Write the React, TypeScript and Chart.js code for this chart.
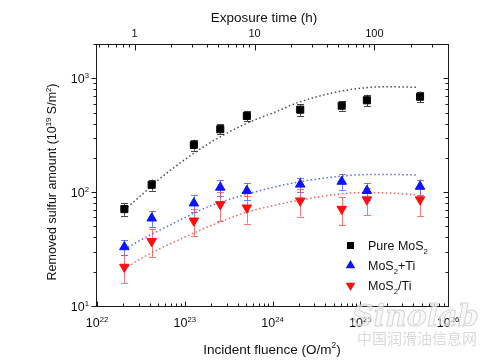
import React, { useEffect, useRef } from 'react';
import { Chart, registerables } from 'chart.js';
Chart.register(...registerables);

const FONT = '"Liberation Sans", Arial, Helvetica, sans-serif';

// Measured data (incident fluence O/m^2)
const fluence = [2.05e22, 4.2e22, 1.27e23, 2.54e23, 5.1e23, 2.07e24, 6.15e24, 1.19e25, 4.8e25];
const pureMoS2 = [71, 116, 260, 357, 467, 530, 574, 641, 689];
const pureMoS2Err = [9, 13, 29, 36, 45, 62, 55, 75, 76];
const mos2PlusTi = [33, 59, 80, 110, 103, 117, 124, 103, 112];
const mos2PlusTiErr = [5, 9.5, 13.5, 18, 17, 17, 19, 17, 17];
const mos2SlashTi = [22, 37, 56, 78, 73, 84, 71, 86, 86];
const mos2SlashTiErr = [6, 10, 15, 22, 20, 23, 20, 23, 24];

// Fitted (dotted) curves
const fitFluence = [2.05e22, 3e22, 5e22, 1e23, 2e23, 5e23, 1e24, 2e24, 5e24, 1e25, 2e25, 4.5e25];
const pureFit = [70, 90, 128, 193, 275, 400, 494, 616, 748, 817, 842, 833];
const plusTiFit = [31.5, 37.2, 45.7, 59.7, 76.4, 95.5, 110, 123, 136, 142, 143, 141.6];
const slashTiFit = [21.2, 25.4, 31.4, 40.2, 50.9, 66.4, 76, 85, 94.8, 99, 98.4, 94.4];

// Axis tick labels
const bottomMajor = [1e22, 1e23, 1e24, 1e25, 1e26];
const bottomExp = ['22', '23', '24', '25', '26'];
const leftMajor = [10, 100, 1000];
const leftExp = ['1', '2', '3'];
const topMajor = [1, 10, 100];
const topLabels = ['1', '10', '100'];

const legendLabels = [
  [{ t: 'Pure MoS' }, { t: '2', sub: true }],
  [{ t: 'MoS' }, { t: '2', sub: true }, { t: '+Ti' }],
  [{ t: 'MoS' }, { t: '2', sub: true }, { t: '/Ti' }],
];

const BLACK = '#000000';
const BLUE = '#0a14ff';
const RED = '#ff0d0d';

type Seg = { t: string; sup?: boolean; sub?: boolean };

function minorsBetween(min: number, max: number): number[] {
  const out: number[] = [];
  for (let e = Math.floor(Math.log10(min)); e <= Math.ceil(Math.log10(max)); e++) {
    for (let m = 2; m <= 9; m++) {
      const v = m * Math.pow(10, e);
      if (v >= min * 0.999 && v <= max * 1.001) out.push(v);
    }
  }
  return out;
}

function richWidth(ctx: CanvasRenderingContext2D, segs: Seg[], size: number) {
  let w = 0;
  for (const s of segs) {
    const fs = s.sup || s.sub ? size * 0.62 : size;
    ctx.font = `${fs}px ${FONT}`;
    w += ctx.measureText(s.t).width;
  }
  return w;
}

function drawRich(ctx: CanvasRenderingContext2D, segs: Seg[], x: number, y: number, size: number, align: string) {
  const total = richWidth(ctx, segs, size);
  let cx = align === 'center' ? x - total / 2 : align === 'right' ? x - total : x;
  ctx.textAlign = 'left';
  ctx.textBaseline = 'alphabetic';
  for (const s of segs) {
    const fs = s.sup || s.sub ? size * 0.62 : size;
    ctx.font = `${fs}px ${FONT}`;
    const dy = s.sup ? -size * 0.42 : s.sub ? size * 0.28 : 0;
    ctx.fillText(s.t, cx, y + dy);
    cx += ctx.measureText(s.t).width;
  }
}

function drawMarker(ctx: CanvasRenderingContext2D, kind: string, x: number, y: number, color: string) {
  ctx.fillStyle = color;
  ctx.beginPath();
  if (kind === 'rect') {
    ctx.rect(x - 3.5, y - 3.5, 7, 7);
  } else if (kind === 'up') {
    ctx.moveTo(x, y - 5.5);
    ctx.lineTo(x + 4.8, y + 2.8);
    ctx.lineTo(x - 4.8, y + 2.8);
    ctx.closePath();
  } else {
    ctx.moveTo(x, y + 5.5);
    ctx.lineTo(x + 4.8, y - 2.8);
    ctx.lineTo(x - 4.8, y - 2.8);
    ctx.closePath();
  }
  ctx.fill();
}

const errorBars = [
  { data: pureMoS2, err: pureMoS2Err, color: 'rgba(40,40,40,0.85)' },
  { data: mos2PlusTi, err: mos2PlusTiErr, color: 'rgba(60,80,255,0.75)' },
  { data: mos2SlashTi, err: mos2SlashTiErr, color: 'rgba(255,70,70,0.75)' },
];

const legendMarkers = [
  { kind: 'rect', color: BLACK },
  { kind: 'up', color: BLUE },
  { kind: 'down', color: RED },
];

const framePlugin = {
  id: 'framePlugin',
  beforeDraw(chart: any) {
    const ctx = chart.ctx;
    ctx.save();
    ctx.fillStyle = '#ffffff';
    ctx.fillRect(0, 0, chart.width, chart.height);
    ctx.restore();
  },
  beforeDatasetsDraw(chart: any) {
    const ctx = chart.ctx;
    const xs = chart.scales.x;
    const ys = chart.scales.y;
    ctx.save();
    ctx.lineWidth = 1;
    for (const eb of errorBars) {
      ctx.strokeStyle = eb.color;
      for (let i = 0; i < fluence.length; i++) {
        const px = Math.round(xs.getPixelForValue(fluence[i])) + 0.5;
        const top = ys.getPixelForValue(eb.data[i] + eb.err[i]);
        const bot = ys.getPixelForValue(eb.data[i] - eb.err[i]);
        ctx.beginPath();
        ctx.moveTo(px, top);
        ctx.lineTo(px, bot);
        ctx.moveTo(px - 3.5, Math.round(top) + 0.5);
        ctx.lineTo(px + 3.5, Math.round(top) + 0.5);
        ctx.moveTo(px - 3.5, Math.round(bot) + 0.5);
        ctx.lineTo(px + 3.5, Math.round(bot) + 0.5);
        ctx.stroke();
      }
    }
    ctx.restore();
  },
  afterDraw(chart: any) {
    const ctx = chart.ctx;
    const ca = chart.chartArea;
    const xs = chart.scales.x;
    const xt = chart.scales.xTop;
    const ys = chart.scales.y;
    const L = Math.round(ca.left) - 0.5;
    const R = Math.round(ca.right) + 0.5;
    const T = Math.round(ca.top) + 0.5;
    const B = Math.round(ca.bottom) + 0.5;
    ctx.save();
    ctx.strokeStyle = '#1a1a1a';
    ctx.lineWidth = 1;
    ctx.strokeRect(L, T, R - L, B - T);

    ctx.beginPath();
    // bottom axis (inward ticks)
    const bMin = minorsBetween(1e22, 1e26);
    for (const v of bottomMajor) {
      const p = Math.round(xs.getPixelForValue(v)) + 0.5;
      ctx.moveTo(p, B); ctx.lineTo(p, B - 5);
    }
    for (const v of bMin) {
      const p = Math.round(xs.getPixelForValue(v)) + 0.5;
      ctx.moveTo(p, B); ctx.lineTo(p, B - 3);
    }
    // top axis (inward ticks)
    const tMin = minorsBetween(xt.min, xt.max);
    for (const v of topMajor) {
      const p = Math.round(xt.getPixelForValue(v)) + 0.5;
      ctx.moveTo(p, T); ctx.lineTo(p, T + 6);
    }
    for (const v of tMin) {
      const p = Math.round(xt.getPixelForValue(v)) + 0.5;
      if (p <= L + 1 || p >= R - 1) continue;
      ctx.moveTo(p, T); ctx.lineTo(p, T + 3);
    }
    // left axis (outward ticks) and right axis (inward ticks)
    const yMin = minorsBetween(10, 2000);
    for (const v of leftMajor) {
      const p = Math.round(ys.getPixelForValue(v)) + 0.5;
      ctx.moveTo(L, p); ctx.lineTo(L - 5, p);
      ctx.moveTo(R, p); ctx.lineTo(R - 5, p);
    }
    for (const v of yMin) {
      const p = Math.round(ys.getPixelForValue(v)) + 0.5;
      ctx.moveTo(L, p); ctx.lineTo(L - 3, p);
      ctx.moveTo(R, p); ctx.lineTo(R - 3, p);
    }
    ctx.stroke();

    // tick labels
    ctx.fillStyle = '#111';
    bottomMajor.forEach((v, i) => {
      const p = xs.getPixelForValue(v);
      drawRich(ctx, [{ t: '10' }, { t: bottomExp[i], sup: true }], p, 327, 12.5, 'center');
    });
    leftMajor.forEach((v, i) => {
      const p = ys.getPixelForValue(v);
      drawRich(ctx, [{ t: '10' }, { t: leftExp[i], sup: true }], 89, p + 5, 12.5, 'right');
    });
    topMajor.forEach((v, i) => {
      const p = xt.getPixelForValue(v);
      ctx.font = `11px ${FONT}`;
      ctx.textAlign = 'center';
      ctx.textBaseline = 'alphabetic';
      ctx.fillText(topLabels[i], p, 37);
    });

    // axis titles
    ctx.fillStyle = '#111';
    drawRich(ctx, [{ t: 'Exposure time (h)' }], 264, 22, 13.5, 'center');
    drawRich(ctx, [{ t: 'Incident fluence (O/m' }, { t: '2', sup: true }, { t: ')' }], 272, 354, 13.5, 'center');
    ctx.save();
    ctx.translate(56, 182);
    ctx.rotate(-Math.PI / 2);
    drawRich(
      ctx,
      [
        { t: 'Removed sulfur amount (10' },
        { t: '19', sup: true },
        { t: ' S/m' },
        { t: '2', sup: true },
        { t: ')' },
      ],
      0,
      0,
      12.5,
      'center'
    );
    ctx.restore();

    // legend
    const rowsY = [245.5, 265.5, 285.5];
    legendMarkers.forEach((m, i) => {
      drawMarker(ctx, m.kind, 350.5, rowsY[i], m.color);
      ctx.fillStyle = '#111';
      drawRich(ctx, legendLabels[i] as Seg[], 368, rowsY[i] + 4.5, 12.5, 'left');
    });

    // watermark
    ctx.globalAlpha = 0.8;
    ctx.font = `italic bold 30px "DejaVu Serif", serif`;
    ctx.textAlign = 'left';
    ctx.lineWidth = 1;
    ctx.strokeStyle = 'rgba(170,170,170,0.6)';
    ctx.fillStyle = 'rgba(245,245,245,0.85)';
    ctx.fillText('Sinolab', 352, 326);
    ctx.strokeText('Sinolab', 352, 326);
    ctx.font = `15px "Noto Sans CJK SC", sans-serif`;
    ctx.fillStyle = 'rgba(200,200,200,0.85)';
    ctx.fillText('中国润滑油信息网', 357, 344);
    ctx.restore();
  },
};

export default function App() {
  const ref = useRef<HTMLCanvasElement>(null);
  useEffect(() => {
    const canvas = ref.current;
    if (!canvas) return;
    const pts = (ys: number[]) => fluence.map((x, i) => ({ x, y: ys[i] }));
    const fit = (ys: number[]) => fitFluence.map((x, i) => ({ x, y: ys[i] }));
    const chart = new Chart(canvas, {
      type: 'scatter',
      data: {
        datasets: [
          {
            label: 'Pure MoS2',
            data: pts(pureMoS2),
            pointStyle: 'rect',
            pointRadius: 5,
            backgroundColor: BLACK,
            borderColor: BLACK,
            borderWidth: 1,
            order: 0,
          },
          {
            label: 'MoS2+Ti',
            data: pts(mos2PlusTi),
            pointStyle: 'triangle',
            pointRadius: 5.5,
            backgroundColor: BLUE,
            borderColor: BLUE,
            borderWidth: 1,
            order: 0,
          },
          {
            label: 'MoS2/Ti',
            data: pts(mos2SlashTi),
            pointStyle: 'triangle',
            rotation: 180,
            pointRadius: 5.5,
            backgroundColor: RED,
            borderColor: RED,
            borderWidth: 1,
            order: 0,
          },
          {
            label: 'fit1',
            data: fit(pureFit),
            showLine: true,
            pointRadius: 0,
            borderColor: 'rgba(60,60,60,0.9)',
            borderWidth: 1.5,
            borderDash: [1.5, 2.5],
            cubicInterpolationMode: 'monotone',
            order: 1,
          },
          {
            label: 'fit2',
            data: fit(plusTiFit),
            showLine: true,
            pointRadius: 0,
            borderColor: 'rgba(70,90,255,0.9)',
            borderWidth: 1.5,
            borderDash: [1.5, 2.5],
            cubicInterpolationMode: 'monotone',
            order: 1,
          },
          {
            label: 'fit3',
            data: fit(slashTiFit),
            showLine: true,
            pointRadius: 0,
            borderColor: 'rgba(255,80,80,0.9)',
            borderWidth: 1.5,
            borderDash: [1.5, 2.5],
            cubicInterpolationMode: 'monotone',
            order: 1,
          },
        ] as any,
      },
      options: {
        animation: false,
        responsive: false,
        maintainAspectRatio: false,
        layout: { padding: 0 },
        plugins: { legend: { display: false }, tooltip: { enabled: false } },
        scales: {
          x: {
            type: 'logarithmic',
            position: 'bottom',
            min: 1e22,
            max: 1e26,
            ticks: { display: false },
            grid: { display: false },
            border: { display: false },
            afterFit: (s: any) => { s.height = 54; },
          },
          xTop: {
            type: 'logarithmic',
            position: 'top',
            min: 0.485,
            max: 411,
            ticks: { display: false },
            grid: { display: false },
            border: { display: false },
            afterFit: (s: any) => { s.height = 44; },
          },
          y: {
            type: 'logarithmic',
            position: 'left',
            min: 10,
            max: 2000,
            ticks: { display: false },
            grid: { display: false },
            border: { display: false },
            afterFit: (s: any) => { s.width = 97; },
          },
          yRight: {
            type: 'logarithmic',
            position: 'right',
            min: 10,
            max: 2000,
            ticks: { display: false },
            grid: { display: false },
            border: { display: false },
            afterFit: (s: any) => { s.width = 52; },
          },
        } as any,
      },
      plugins: [framePlugin],
    });
    return () => chart.destroy();
  }, []);
  return (
    <div style={{ position: 'absolute', left: 0, top: 0, width: 500, height: 360, background: '#fff' }}>
      <canvas ref={ref} width={500} height={360} style={{ display: 'block' }} />
    </div>
  );
}
